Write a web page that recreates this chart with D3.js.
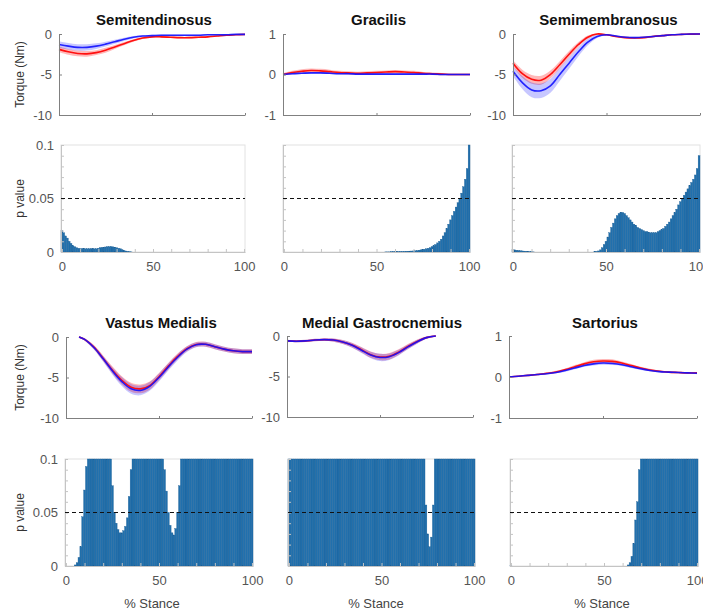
<!DOCTYPE html>
<html>
<head>
<meta charset="utf-8">
<script src="https://cdn.jsdelivr.net/npm/d3@7"></script>
<style>
  body { margin: 0; background: #fff; }
  svg text { font-family: "Liberation Sans", Arial, sans-serif; }
</style>
</head>
<body>
<div id="chart"></div>
<script>
// torque curves, % stance every 5
var pct = [0,5,10,15,20,25,30,35,40,45,50,55,60,65,70,75,80,85,90,95,100];
var pctVM = [7,10,15,20,25,30,35,40,45,50,55,60,65,70,75,80,85,90,95,100];
var pctMG = [0,5,10,15,20,25,30,35,40,45,50,55,60,65,70,75,80];

var stRed    = [-1.9,-2.2,-2.4,-2.45,-2.3,-2.0,-1.6,-1.2,-0.8,-0.5,-0.35,-0.35,-0.4,-0.45,-0.45,-0.4,-0.35,-0.25,-0.15,-0.1,-0.05];
var stRedSd  = [0.35,0.35,0.35,0.35,0.3,0.3,0.25,0.2,0.15,0.12,0.1,0.1,0.1,0.1,0.1,0.1,0.08,0.08,0.06,0.05,0.05];
var stBlue   = [-1.3,-1.5,-1.65,-1.65,-1.5,-1.25,-0.95,-0.65,-0.4,-0.25,-0.2,-0.15,-0.15,-0.15,-0.15,-0.15,-0.1,-0.1,-0.1,-0.05,-0.05];
var stBlueSd = [0.4,0.4,0.4,0.4,0.35,0.3,0.25,0.2,0.15,0.1,0.1,0.1,0.1,0.1,0.1,0.1,0.08,0.08,0.08,0.06,0.05];

var grRed    = [0,0.05,0.08,0.1,0.09,0.07,0.05,0.04,0.03,0.04,0.05,0.06,0.07,0.06,0.05,0.03,0.02,0.01,0,0,0];
var grRedSd  = [0.03,0.04,0.05,0.05,0.05,0.05,0.04,0.04,0.04,0.04,0.04,0.04,0.04,0.04,0.04,0.03,0.03,0.03,0.02,0.02,0.02];
var grBlue   = [0,0.02,0.03,0.04,0.04,0.03,0.02,0.02,0.01,0.01,0.01,0.01,0.01,0.01,0.01,0.01,0.01,0,0,0,0];
var grBlueSd = [0.02,0.02,0.02,0.02,0.02,0.02,0.02,0.02,0.02,0.02,0.02,0.02,0.02,0.02,0.02,0.02,0.02,0.02,0.02,0.02,0.02];

var smRed    = [-3.6,-4.9,-5.6,-5.7,-5.0,-3.8,-2.5,-1.3,-0.4,0,-0.1,-0.3,-0.45,-0.5,-0.45,-0.3,-0.2,-0.1,-0.05,-0.02,0];
var smRedSd  = [0.4,0.5,0.55,0.55,0.5,0.45,0.4,0.3,0.2,0.1,0.1,0.1,0.1,0.1,0.1,0.1,0.08,0.06,0.05,0.05,0.05];
var smBlue   = [-4.6,-6.0,-6.9,-7.0,-6.4,-5.0,-3.6,-2.2,-1.0,-0.3,-0.1,-0.25,-0.4,-0.45,-0.4,-0.3,-0.2,-0.1,-0.05,0,0];
var smBlueSd = [0.6,0.8,0.9,0.9,0.85,0.8,0.7,0.55,0.4,0.2,0.1,0.1,0.1,0.1,0.1,0.1,0.08,0.06,0.05,0.05,0.05];

var vmRed    = [0,-0.3,-1.25,-2.65,-4.1,-5.35,-6.2,-6.4,-6.0,-4.9,-3.6,-2.4,-1.45,-0.92,-0.9,-1.2,-1.5,-1.7,-1.8,-1.8];
var vmRedSd  = [0.1,0.15,0.25,0.35,0.45,0.5,0.55,0.55,0.5,0.45,0.4,0.35,0.3,0.3,0.3,0.3,0.3,0.3,0.3,0.3];
var vmBlue   = [0,-0.3,-1.3,-2.7,-4.2,-5.5,-6.4,-6.6,-6.1,-5.0,-3.7,-2.5,-1.5,-0.95,-0.9,-1.2,-1.5,-1.7,-1.8,-1.8];
var vmBlueSd = [0.1,0.15,0.25,0.35,0.45,0.55,0.6,0.6,0.55,0.5,0.45,0.4,0.35,0.3,0.3,0.3,0.3,0.3,0.3,0.3];

var mgRed    = [-0.6,-0.65,-0.6,-0.5,-0.45,-0.5,-0.73,-1.12,-1.7,-2.3,-2.6,-2.5,-2.0,-1.3,-0.68,-0.2,0];
var mgRedSd  = [0.15,0.15,0.15,0.15,0.15,0.2,0.25,0.3,0.35,0.4,0.4,0.4,0.35,0.3,0.25,0.15,0.1];
var mgBlue   = [-0.6,-0.65,-0.6,-0.5,-0.45,-0.5,-0.75,-1.15,-1.75,-2.35,-2.65,-2.55,-2.05,-1.35,-0.7,-0.2,0];
var mgBlueSd = [0.15,0.15,0.15,0.15,0.15,0.2,0.25,0.3,0.35,0.4,0.45,0.4,0.35,0.3,0.25,0.15,0.1];

var saRed    = [0,0.02,0.04,0.06,0.09,0.12,0.18,0.25,0.32,0.37,0.39,0.38,0.34,0.28,0.22,0.17,0.14,0.12,0.11,0.1,0.1];
var saRedSd  = [0.01,0.01,0.01,0.02,0.02,0.03,0.03,0.04,0.04,0.05,0.05,0.05,0.04,0.04,0.03,0.03,0.02,0.02,0.02,0.02,0.02];
var saBlue   = [0,0.02,0.04,0.06,0.08,0.11,0.16,0.22,0.28,0.32,0.34,0.33,0.3,0.25,0.2,0.16,0.13,0.12,0.11,0.1,0.09];
var saBlueSd = [0.01,0.01,0.01,0.02,0.02,0.02,0.03,0.03,0.03,0.04,0.04,0.04,0.03,0.03,0.03,0.02,0.02,0.02,0.02,0.02,0.02];

// p values, one bar per % stance 0..100 (values above 0.1 are off the axis)
var stP = [
  0.020,0.018,0.015,0.013,0.010,0.008,0.006,0.005,0.004,0.0035,
  0.003,0.003,0.003,0.003,0.003,0.003,0.003,0.003,0.003,0.003,
  0.0035,0.004,0.0042,0.0045,0.0047,0.005,0.005,0.005,0.0048,0.0045,
  0.004,0.0035,0.003,0.0022,0.0015,0.001,0.0006,0.0003,0.0001,0,
  0,0,0,0,0,0,0,0,0,0,
  0,0,0,0,0,0,0,0,0,0,
  0,0,0,0,0,0,0,0,0,0,
  0,0,0,0,0,0,0,0,0,0,
  0,0,0,0,0,0,0,0,0,0,
  0,0,0,0,0,0,0,0,0,0,
  0];
var grP = [
  0,0,0,0,0,0,0,0,0,0,
  0,0,0,0,0,0,0,0,0,0,
  0,0,0,0,0,0,0,0,0,0,
  0,0,0,0,0,0,0,0,0,0,
  0,0,0,0,0,0,0,0,0,0,
  0,0,0,0,0,0.0001,0.0001,0.0001,0.0002,0.0002,
  0.0002,0.0003,0.0003,0.0004,0.0004,0.0005,0.0006,0.0007,0.0008,0.0009,
  0.001,0.0012,0.0014,0.0017,0.002,0.0023,0.0026,0.003,0.0035,0.004,
  0.005,0.006,0.007,0.0085,0.01,0.012,0.015,0.018,0.022,0.026,
  0.03,0.034,0.038,0.042,0.046,0.05,0.055,0.061,0.068,0.078,
  0.1];
var smP = [
  0.0025,0.002,0.0017,0.0015,0.0012,0.001,0.0008,0.0006,0.0004,0.0003,
  0.0002,0.0001,0,0,0,0,0,0,0,0,
  0,0,0,0,0,0,0,0,0,0,
  0,0,0,0,0,0,0,0,0,0,
  0,0,0,0,0.0002,0.0005,0.001,0.002,0.004,0.007,
  0.01,0.014,0.018,0.023,0.027,0.031,0.034,0.036,0.037,0.037,
  0.036,0.034,0.032,0.03,0.028,0.026,0.025,0.023,0.022,0.021,
  0.02,0.019,0.019,0.018,0.018,0.018,0.018,0.018,0.019,0.02,
  0.021,0.022,0.024,0.026,0.028,0.031,0.034,0.037,0.04,0.044,
  0.047,0.05,0.053,0.056,0.059,0.062,0.065,0.068,0.072,0.078,
  0.09];
var vmP = [
  0,0,0,0,0,0.001,0.003,0.008,0.018,0.046,
  0.071,0.093,0.2,0.2,0.2,0.2,0.2,0.2,0.2,0.2,
  0.2,0.2,0.2,0.2,0.2,0.075,0.05,0.04,0.034,0.031,
  0.031,0.033,0.037,0.045,0.065,0.09,0.2,0.2,0.2,0.2,
  0.2,0.2,0.2,0.2,0.2,0.2,0.2,0.2,0.2,0.2,
  0.2,0.2,0.2,0.09,0.07,0.05,0.038,0.031,0.029,0.035,
  0.05,0.075,0.2,0.2,0.2,0.2,0.2,0.2,0.2,0.2,
  0.2,0.2,0.2,0.2,0.2,0.2,0.2,0.2,0.2,0.2,
  0.2,0.2,0.2,0.2,0.2,0.2,0.2,0.2,0.2,0.2,
  0.2,0.2,0.2,0.2,0.2,0.2,0.2,0.2,0.2,0.2,
  0.2];
var mgP = [
  0.2,0.2,0.2,0.2,0.2,0.2,0.2,0.2,0.2,0.2,
  0.2,0.2,0.2,0.2,0.2,0.2,0.2,0.2,0.2,0.2,
  0.2,0.2,0.2,0.2,0.2,0.2,0.2,0.2,0.2,0.2,
  0.2,0.2,0.2,0.2,0.2,0.2,0.2,0.2,0.2,0.2,
  0.2,0.2,0.2,0.2,0.2,0.2,0.2,0.2,0.2,0.2,
  0.2,0.2,0.2,0.2,0.2,0.2,0.2,0.2,0.2,0.2,
  0.2,0.2,0.2,0.2,0.2,0.2,0.2,0.2,0.2,0.2,
  0.2,0.2,0.2,0.2,0.057,0.03,0.018,0.027,0.057,0.2,
  0.2,0.2,0.2,0.2,0.2,0.2,0.2,0.2,0.2,0.2,
  0.2,0.2,0.2,0.2,0.2,0.2,0.2,0.2,0.2,0.2,
  0.2];
var saP = [
  0.0005,0,0,0,0,0,0,0,0,0,
  0,0,0,0,0,0,0,0,0,0,
  0,0,0,0,0,0,0,0,0,0,
  0,0,0,0,0,0,0,0,0,0,
  0,0,0,0,0,0,0,0,0,0,
  0,0,0,0,0,0,0,0,0,0,
  0,0,0,0.001,0.003,0.009,0.021,0.043,0.06,0.09,
  0.2,0.2,0.2,0.2,0.2,0.2,0.2,0.2,0.2,0.2,
  0.2,0.2,0.2,0.2,0.2,0.2,0.2,0.2,0.2,0.2,
  0.2,0.2,0.2,0.2,0.2,0.2,0.2,0.2,0.2,0.2,
  0.2];

var pTicks = [0, 0.05, 0.1];
var xTicks = [0, 50, 100];

var svg = d3.select("#chart").append("svg")
  .attr("width", 703)
  .attr("height", 613);

var FONT = "Liberation Sans, Arial, sans-serif";
var plain = function(d) { return String(d); };

// torque panels
var torquePanels = [
  {title: "Semitendinosus", x: pct, red: stRed, redSd: stRedSd, blue: stBlue, blueSd: stBlueSd, dom: [-10, 0], ticks: [-10, -5, 0],
   box: [59, 245, 34, 115], titleY: 25, col: 0},
  {title: "Gracilis", x: pct, red: grRed, redSd: grRedSd, blue: grBlue, blueSd: grBlueSd, dom: [-1, 1], ticks: [-1, 0, 1],
   box: [283, 470, 34, 115], titleY: 25, col: 1},
  {title: "Semimembranosus", x: pct, red: smRed, redSd: smRedSd, blue: smBlue, blueSd: smBlueSd, dom: [-10, 0], ticks: [-10, -5, 0],
   box: [513, 700, 34, 115], titleY: 25, col: 2},
  {title: "Vastus Medialis", x: pctVM, red: vmRed, redSd: vmRedSd, blue: vmBlue, blueSd: vmBlueSd, dom: [-10, 0], ticks: [-10, -5, 0],
   box: [66, 252, 337, 418], titleY: 328, col: 0},
  {title: "Medial Gastrocnemius", x: pctMG, red: mgRed, redSd: mgRedSd, blue: mgBlue, blueSd: mgBlueSd, dom: [-10, 0], ticks: [-10, -5, 0],
   box: [287, 473, 336, 417], titleY: 328, col: 1},
  {title: "Sartorius", x: pct, red: saRed, redSd: saRedSd, blue: saBlue, blueSd: saBlueSd, dom: [-1, 1], ticks: [-1, 0, 1],
   box: [509, 697, 336, 418], titleY: 328, col: 2}
];

var pPanels = [
  {p: stP, box: [61, 245, 145, 252], col: 0},
  {p: grP, box: [283, 470, 145, 252], col: 1},
  {p: smP, box: [512, 700, 145, 252], col: 2},
  {p: vmP, box: [65, 253, 459, 566], col: 0, stance: 152},
  {p: mgP, box: [288, 475, 459, 566], col: 1, stance: 376},
  {p: saP, box: [510, 698, 459, 566], col: 2, stance: 602}
];

function styleAxis(g, lineColor, textColor) {
  g.attr("font-family", FONT).attr("font-size", 13);
  g.select(".domain").attr("stroke", lineColor);
  g.selectAll(".tick line").attr("stroke", lineColor);
  g.selectAll(".tick text").attr("fill", textColor);
}

torquePanels.forEach(function(p) {
  var b = p.box;
  var x = d3.scaleLinear().domain([0, 100]).range([b[0], b[1]]);
  var y = d3.scaleLinear().domain(p.dom).range([b[3], b[2]]);

  var rows = p.x.map(function(v, i) {
    return {x: v, r: p.red[i], rs: p.redSd[i], b: p.blue[i], bs: p.blueSd[i]};
  });

  var band = function(m, s) {
    return d3.area().curve(d3.curveCatmullRom)
      .x(function(d) { return x(d.x); })
      .y0(function(d) { return y(d[m] - d[s]); })
      .y1(function(d) { return y(d[m] + d[s]); });
  };
  var line = function(m) {
    return d3.line().curve(d3.curveCatmullRom)
      .x(function(d) { return x(d.x); })
      .y(function(d) { return y(d[m]); });
  };

  svg.append("path").datum(rows).attr("d", band("r", "rs")).attr("fill", "rgba(255,0,0,0.28)");
  svg.append("path").datum(rows).attr("d", band("b", "bs")).attr("fill", "rgba(0,0,255,0.22)");
  svg.append("path").datum(rows).attr("d", line("r")).attr("fill", "none").attr("stroke", "#ff1010").attr("stroke-width", 1.6);
  svg.append("path").datum(rows).attr("d", line("b")).attr("fill", "none").attr("stroke", "#1010ff").attr("stroke-width", 1.6).attr("stroke-opacity", 0.9);

  var ya = svg.append("g").attr("transform", "translate(" + b[0] + ",0)")
    .call(d3.axisLeft(y).tickValues(p.ticks).tickSize(-3).tickSizeOuter(0).tickPadding(7).tickFormat(plain));
  styleAxis(ya, "#808080", "#555");

  var xa = svg.append("g").attr("transform", "translate(0," + b[3] + ")")
    .call(d3.axisBottom(x).tickValues(xTicks).tickSize(-2).tickSizeOuter(0).tickFormat(""));
  styleAxis(xa, "#808080", "#555");

  svg.append("text")
    .attr("x", (b[0] + b[1]) / 2 + 2)
    .attr("y", p.titleY)
    .attr("text-anchor", "middle")
    .attr("font-size", 15)
    .attr("font-weight", "bold")
    .attr("fill", "#111")
    .text(p.title);

  if (p.col === 0) {
    svg.append("text")
      .attr("transform", "translate(24," + (b[2] + b[3]) / 2 + ") rotate(-90)")
      .attr("text-anchor", "middle")
      .attr("font-size", 12)
      .attr("fill", "#333")
      .text("Torque (Nm)");
  }
});

pPanels.forEach(function(p) {
  var b = p.box;
  var x = d3.scaleLinear().domain([-0.5, 100.5]).range([b[0], b[1]]);
  var y = d3.scaleLinear().domain([0, 0.1]).range([b[3], b[2]]).clamp(true);

  // frame
  svg.append("rect")
    .attr("x", b[0]).attr("y", b[2])
    .attr("width", b[1] - b[0]).attr("height", b[3] - b[2])
    .attr("fill", "none").attr("stroke", "#e2e2e2");

  svg.append("g").selectAll("rect")
    .data(p.p)
    .join("rect")
    .attr("x", function(d, i) { return x(i - 0.5); })
    .attr("width", function(d, i) { return x(i + 0.5) - x(i - 0.5); })
    .attr("y", function(d) { return y(d); })
    .attr("height", function(d) { return b[3] - y(d); })
    .attr("fill", "#2170ad")
    .attr("stroke", "#1a5e95")
    .attr("stroke-width", 0.35);

  // minor ticks
  var ya = svg.append("g").attr("transform", "translate(" + b[0] + ",0)")
    .call(d3.axisLeft(y).tickValues(d3.range(0, 0.1001, 0.01)).tickSize(-3).tickSizeOuter(0).tickFormat(""));
  styleAxis(ya, "#c4c4c4", "#555");
  if (p.col === 0) {
    var yl = svg.append("g").attr("transform", "translate(" + b[0] + ",0)")
      .call(d3.axisLeft(y).tickValues(pTicks).tickSize(0).tickPadding(7).tickFormat(plain));
    yl.select(".domain").remove();
    styleAxis(yl, "#c4c4c4", "#555");
    svg.append("text")
      .attr("transform", "translate(24," + (b[2] + b[3]) / 2 + ") rotate(-90)")
      .attr("text-anchor", "middle")
      .attr("font-size", 12)
      .attr("fill", "#333")
      .text("p value");
  }

  var xa = svg.append("g").attr("transform", "translate(0," + b[3] + ")")
    .call(d3.axisBottom(x).tickValues(d3.range(0, 101, 10)).tickSize(-3).tickSizeOuter(0).tickFormat(""));
  styleAxis(xa, "#c4c4c4", "#555");
  var xl = svg.append("g").attr("transform", "translate(0," + b[3] + ")")
    .call(d3.axisBottom(x).tickValues(xTicks).tickSize(0).tickPadding(10).tickFormat(plain));
  xl.select(".domain").remove();
  styleAxis(xl, "#c4c4c4", "#555");

  // significance threshold
  svg.append("line")
    .attr("x1", b[0]).attr("x2", b[1])
    .attr("y1", y(0.05)).attr("y2", y(0.05))
    .attr("stroke", "#111")
    .attr("stroke-width", 1.2)
    .attr("stroke-dasharray", "4,3");

  if (p.stance) {
    svg.append("text")
      .attr("x", p.stance)
      .attr("y", 608)
      .attr("text-anchor", "middle")
      .attr("font-size", 13)
      .attr("fill", "#444")
      .text("% Stance");
  }
});
</script>
</body>
</html>
